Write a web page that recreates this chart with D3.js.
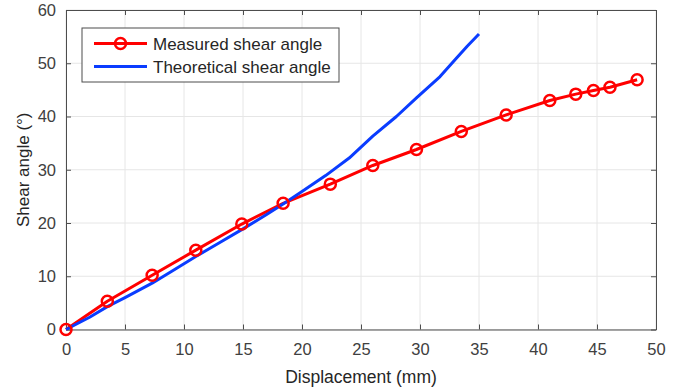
<!DOCTYPE html>
<html><head><meta charset="utf-8">
<script src="https://cdn.jsdelivr.net/npm/d3@7"></script>
<style>body{margin:0;background:#fff}svg text{font-family:"Liberation Sans",Arial,sans-serif}</style>
</head><body><svg id="c" width="685" height="392"></svg>
<script>
const measuredX = [0, 3.5, 7.3, 11.0, 14.9, 18.4, 22.4, 26.0, 29.7, 33.5, 37.3, 41.0, 43.2, 44.7, 46.1, 48.4];
const measuredY = [0, 5.3, 10.2, 14.9, 19.8, 23.7, 27.3, 30.8, 33.8, 37.2, 40.3, 43.0, 44.2, 44.9, 45.5, 46.9];
const theoX = [0, 2, 3.5, 5, 7.3, 9, 11, 13, 15, 17, 18.5, 20, 22, 24, 26, 28, 29.7, 31.7, 33.1, 34, 35];
const theoY = [0, 2.3, 4.3, 6.0, 8.7, 11, 13.7, 16.3, 18.9, 21.6, 23.7, 25.9, 28.9, 32.2, 36.3, 40.0, 43.5, 47.5, 51.0, 53.2, 55.5];
const xTicks = [0, 5, 10, 15, 20, 25, 30, 35, 40, 45, 50];
const yTicks = [0, 10, 20, 30, 40, 50, 60];
const seriesNames = ["Measured shear angle", "Theoretical shear angle"];

const svg = d3.select("#c");
const L = 66, R = 656, T = 10, B = 329.5;
const x = d3.scaleLinear().domain([0, 50]).range([L, R]);
const y = d3.scaleLinear().domain([0, 60]).range([B, T]);
const axisCol = "#4d4d4d", textCol = "#404040";

// grid
const g = svg.append("g");
g.selectAll(".gx").data(xTicks).enter().append("line")
  .attr("x1", d => x(d)).attr("x2", d => x(d)).attr("y1", T).attr("y2", B)
  .attr("stroke", "#e6e6e6").attr("stroke-width", 1);
g.selectAll(".gy").data(yTicks).enter().append("line")
  .attr("y1", d => y(d)).attr("y2", d => y(d)).attr("x1", L).attr("x2", R)
  .attr("stroke", "#e6e6e6").attr("stroke-width", 1);

// axes (ticks inward)
const fs = "16.5px";
const ax = svg.append("g").attr("transform", `translate(0,${B})`)
  .call(d3.axisBottom(x).tickValues(xTicks).tickSizeInner(-5).tickSizeOuter(0).tickPadding(14));
const ay = svg.append("g").attr("transform", `translate(${L},0)`)
  .call(d3.axisLeft(y).tickValues(yTicks).tickSizeInner(-5).tickSizeOuter(0).tickPadding(10));
const axt = svg.append("g").attr("transform", `translate(0,${T})`)
  .call(d3.axisTop(x).tickValues(xTicks).tickSizeInner(-5).tickSizeOuter(0).tickFormat(""));
const ayr = svg.append("g").attr("transform", `translate(${R},0)`)
  .call(d3.axisRight(y).tickValues(yTicks).tickSizeInner(-5).tickSizeOuter(0).tickFormat(""));
[ax, ay, axt, ayr].forEach(a => {
  a.select(".domain").attr("stroke", axisCol).attr("stroke-width", 1);
  a.selectAll(".tick line").attr("stroke", axisCol);
  a.selectAll(".tick text").attr("fill", textCol).style("font-size", fs).style("font-family", '"Liberation Sans",Arial,sans-serif');
});

// lines
const line = d3.line().x(d => x(d[0])).y(d => y(d[1]));
const theo = theoX.map((v, i) => [v, theoY[i]]);
const meas = measuredX.map((v, i) => [v, measuredY[i]]);
svg.append("path").datum(meas).attr("d", line).attr("fill", "none")
  .attr("stroke", "#ff0000").attr("stroke-width", 3).attr("stroke-linejoin", "round");
svg.append("path").datum(theo).attr("d", line).attr("fill", "none")
  .attr("stroke", "#0a3cff").attr("stroke-width", 3).attr("stroke-linejoin", "round");
svg.selectAll(".m").data(meas).enter().append("circle")
  .attr("cx", d => x(d[0])).attr("cy", d => y(d[1])).attr("r", 5.5)
  .attr("fill", "none").attr("stroke", "#ff0000").attr("stroke-width", 2.5);

// axis labels
svg.append("text").attr("x", 361).attr("y", 383).attr("text-anchor", "middle")
  .attr("fill", "#262626").style("font-size", "17.5px").text("Displacement (mm)");
svg.append("text").attr("transform", `translate(29,${(T + B) / 2}) rotate(-90)`).attr("text-anchor", "middle")
  .attr("fill", "#262626").style("font-size", "17px").text("Shear angle (°)");

// legend
const lg = svg.append("g");
lg.append("rect").attr("x", 82).attr("y", 28).attr("width", 257).attr("height", 54)
  .attr("fill", "#fff").attr("stroke", "#4d4d4d").attr("stroke-width", 1);
const rows = [43.5, 66.5];
lg.append("line").attr("x1", 94).attr("x2", 147).attr("y1", rows[0]).attr("y2", rows[0])
  .attr("stroke", "#ff0000").attr("stroke-width", 3);
lg.append("circle").attr("cx", 120.5).attr("cy", rows[0]).attr("r", 5.5)
  .attr("fill", "none").attr("stroke", "#ff0000").attr("stroke-width", 2.5);
lg.append("line").attr("x1", 94).attr("x2", 147).attr("y1", rows[1]).attr("y2", rows[1])
  .attr("stroke", "#0a3cff").attr("stroke-width", 3);
seriesNames.forEach((s, i) => {
  lg.append("text").attr("x", 153).attr("y", rows[i] + 6.5).attr("fill", "#262626")
    .style("font-size", "17px").text(s);
});
</script></body></html>
